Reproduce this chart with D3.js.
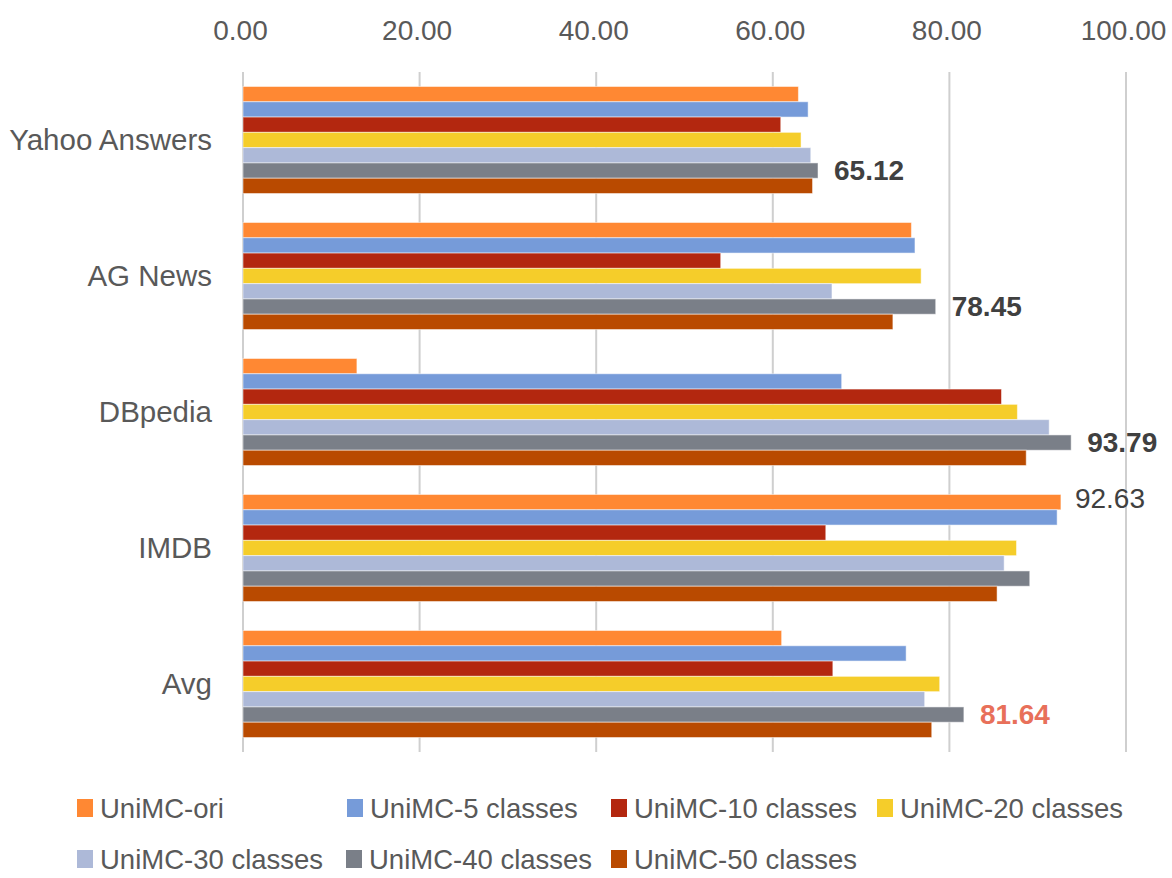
<!DOCTYPE html>
<html><head><meta charset="utf-8">
<script src="https://cdn.jsdelivr.net/npm/d3@7"></script>
<style>body{margin:0;background:#fff}svg{display:block}</style>
</head><body>
<script>
const categories = ["Yahoo Answers","AG News","DBpedia","IMDB","Avg"];
const seriesNames = ["UniMC-ori","UniMC-5 classes","UniMC-10 classes","UniMC-20 classes","UniMC-30 classes","UniMC-40 classes","UniMC-50 classes"];
const seriesColors = ["#FF8833","#769BD9","#B3270F","#F5CD2A","#ADB9D8","#7A7F88","#B94A00"];
const valuesOri  = [62.9, 75.7, 12.9, 92.63, 61.0];
const values5    = [64.0, 76.1, 67.8, 92.2, 75.1];
const values10   = [60.9, 54.1, 85.9, 66.0, 66.8];
const values20   = [63.2, 76.8, 87.7, 87.6, 78.9];
const values30   = [64.3, 66.7, 91.3, 86.2, 77.2];
const values40   = [65.12, 78.45, 93.79, 89.1, 81.64];
const values50   = [64.5, 73.6, 88.7, 85.4, 78.0];
const seriesValues = [valuesOri, values5, values10, values20, values30, values40, values50];
const tickValues = [0,20,40,60,80,100];
// annotated labels: [series index, category index, text, weight, color]
const annotations = [
  [5,0,"65.12","bold","#404040"],
  [5,1,"78.45","bold","#404040"],
  [5,2,"93.79","bold","#404040"],
  [0,3,"92.63","normal","#404040"],
  [5,4,"81.64","bold","#E8705A"]
];

const W=1172,H=878;
const svg=d3.select("body").append("svg").attr("width",W).attr("height",H);
const font="'Liberation Sans', Arial, sans-serif";

const x=d3.scaleLinear().domain([0,100]).range([243,1126]);
const y=d3.scaleBand().domain(categories).range([72,752]).paddingInner(0.213).paddingOuter(0.1065);
const yi=d3.scaleBand().domain(d3.range(seriesNames.length)).range([0,y.bandwidth()]);

// gridlines
svg.append("g").selectAll("line").data(tickValues).join("line")
  .attr("x1",d=>x(d)).attr("x2",d=>x(d)).attr("y1",72).attr("y2",752)
  .attr("stroke","#cfcfcf").attr("stroke-width",2);

// top axis labels
const ax=svg.append("g").attr("transform","translate(0,30)")
  .call(d3.axisTop(x).tickValues(tickValues).tickFormat(d3.format(".2f")).tickSize(0));
ax.select(".domain").remove();
ax.selectAll("text").attr("font-family",font).attr("font-size",28).attr("fill","#595959")
  .attr("dy","0.35em").attr("dx",-3).attr("y",0);

// bars
const rows=[];
seriesValues.forEach((arr,si)=>arr.forEach((v,ci)=>rows.push({si,ci,v})));
svg.append("g").selectAll("rect").data(rows).join("rect")
  .attr("x",x(0)).attr("y",d=>y(categories[d.ci])+yi(d.si))
  .attr("width",d=>x(d.v)-x(0)).attr("height",yi.bandwidth())
  .attr("fill",d=>seriesColors[d.si])
  .attr("stroke","#ffffff").attr("stroke-opacity",0.5).attr("stroke-width",1);

// category labels
svg.append("g").selectAll("text").data(categories).join("text")
  .attr("x",212).attr("y",d=>y(d)+y.bandwidth()/2).attr("dy","0.35em")
  .attr("text-anchor","end").attr("font-family",font).attr("font-size",29.5).attr("fill","#595959")
  .text(d=>d);

// annotations
svg.append("g").selectAll("text").data(annotations).join("text")
  .attr("x",d=>x(seriesValues[d[0]][d[1]])+(d[3]==="bold"?16:14))
  .attr("y",d=>y(categories[d[1]])+yi(d[0])+yi.bandwidth()/2 - (d[3]==="bold"?0:4)).attr("dy","0.35em")
  .attr("font-family",font).attr("font-size",28).attr("font-weight",d=>d[3]).attr("fill",d=>d[4])
  .text(d=>d[2]);

// legend
const legendPos=[[77,808],[347,808],[611,808],[877,808],[77,859],[346,859],[611,859]];
const lg=svg.append("g").selectAll("g").data(seriesNames).join("g")
  .attr("transform",(d,i)=>`translate(${legendPos[i][0]},${legendPos[i][1]})`);
lg.append("rect").attr("x",0).attr("y",-9).attr("width",16).attr("height",18).attr("fill",(d,i)=>seriesColors[i]);
lg.append("text").attr("x",23).attr("y",0).attr("dy","0.35em").attr("font-family",font).attr("font-size",27.5)
  .attr("fill","#595959").text(d=>d);
</script>
</body></html>
